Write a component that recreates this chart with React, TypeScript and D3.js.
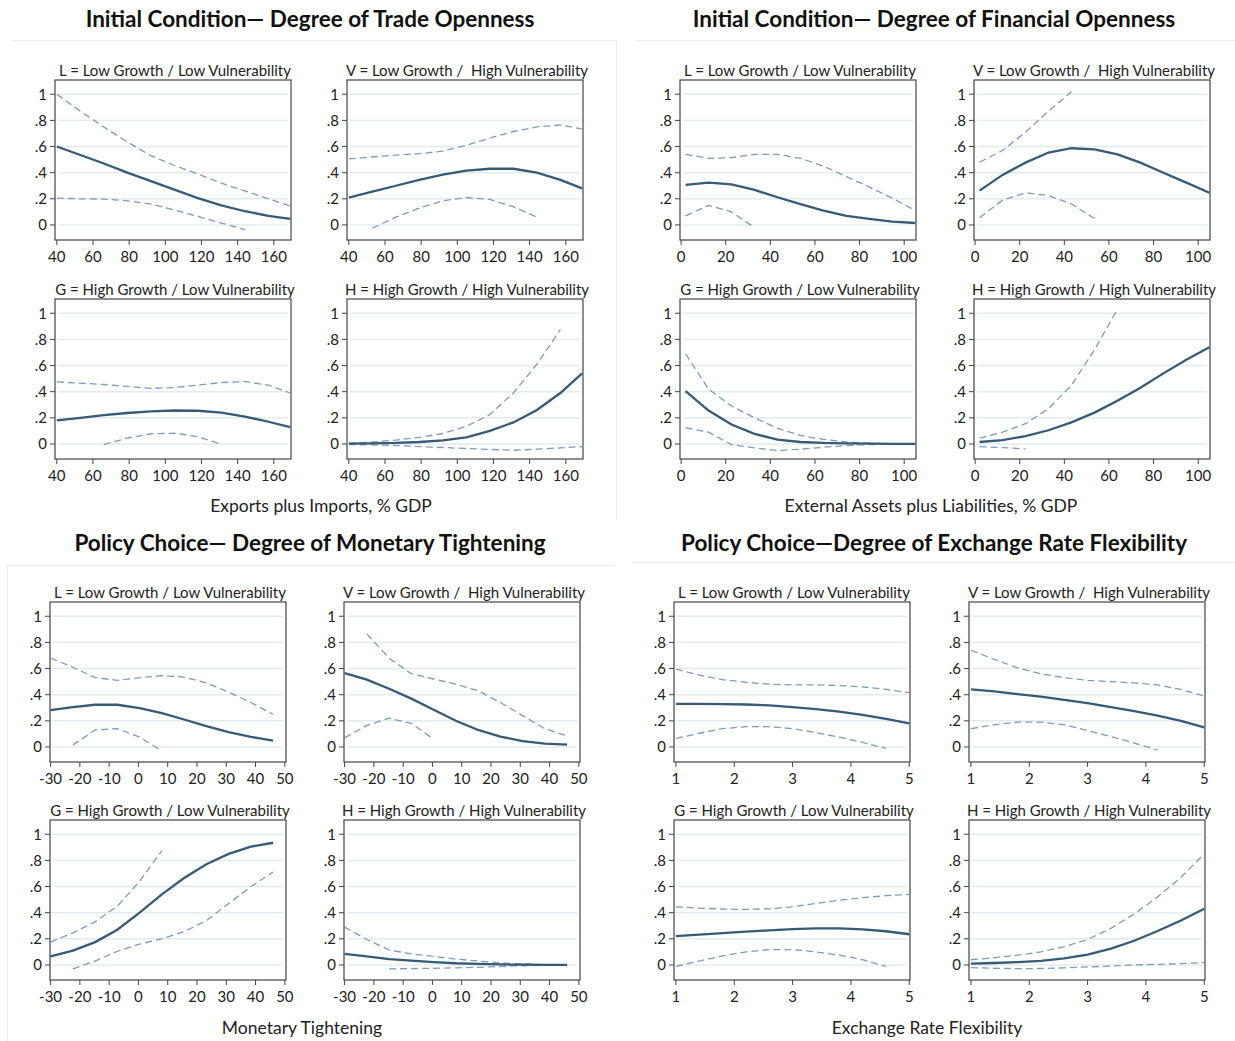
import React from 'react';
import * as d3 from 'd3';

// x grids of the fitted curves
const tradeX = [40, 53, 66, 79, 92, 105, 118, 131, 144, 157, 169];
const finX = [2, 12.3, 22.6, 32.9, 43.2, 53.5, 63.8, 74.1, 84.4, 94.7, 105];
const monX = [-30, -22.4, -14.8, -7.2, 0.4, 8, 15.6, 23.2, 30.8, 38.4, 46];
const flexX = [1, 1.4, 1.8, 2.2, 2.6, 3, 3.4, 3.8, 4.2, 4.6, 5];

// trade openness
const tradeL_fit = [0.6, 0.535, 0.47, 0.4, 0.335, 0.27, 0.205, 0.15, 0.105, 0.07, 0.047];
const tradeL_hi = [1.0, 0.87, 0.75, 0.635, 0.53, 0.455, 0.39, 0.32, 0.26, 0.2, 0.145];
const tradeL_lo = [0.205, 0.2, 0.198, 0.185, 0.16, 0.115, 0.065, 0.015, -0.035, null, null];
const tradeV_fit = [0.21, 0.255, 0.3, 0.345, 0.385, 0.415, 0.43, 0.43, 0.4, 0.345, 0.28];
const tradeV_hi = [0.505, 0.52, 0.535, 0.545, 0.565, 0.61, 0.665, 0.715, 0.75, 0.765, 0.735];
const tradeV_lo = [null, -0.025, 0.06, 0.13, 0.185, 0.21, 0.195, 0.14, 0.06, null, null];
const tradeG_fit = [0.18, 0.2, 0.22, 0.237, 0.25, 0.256, 0.254, 0.24, 0.21, 0.17, 0.128];
const tradeG_hi = [0.475, 0.465, 0.455, 0.44, 0.425, 0.432, 0.45, 0.47, 0.477, 0.45, 0.39];
const tradeG_lo = [null, null, -0.005, 0.045, 0.078, 0.083, 0.055, -0.002, null, null, null];
const tradeH_fit = [0.003, 0.005, 0.008, 0.015, 0.028, 0.05, 0.1, 0.165, 0.26, 0.39, 0.54];
const tradeH_hi = [0.005, 0.015, 0.03, 0.05, 0.08, 0.135, 0.225, 0.39, 0.61, 0.875, null];
const tradeH_lo = [-0.005, -0.007, -0.012, -0.02, -0.027, -0.035, -0.042, -0.048, -0.04, -0.03, -0.02];

// financial openness
const finL_fit = [0.306, 0.324, 0.31, 0.268, 0.212, 0.16, 0.11, 0.069, 0.046, 0.026, 0.015];
const finL_hi = [0.54, 0.51, 0.515, 0.54, 0.54, 0.51, 0.45, 0.37, 0.29, 0.205, 0.11];
const finL_lo = [0.07, 0.15, 0.1, -0.02, null, null, null, null, null, null, null];
const finV_fit = [0.263, 0.383, 0.477, 0.554, 0.587, 0.579, 0.54, 0.477, 0.4, 0.324, 0.247];
const finV_hi = [0.48, 0.57, 0.71, 0.87, 1.02, null, null, null, null, null, null];
const finV_lo = [0.055, 0.19, 0.245, 0.225, 0.16, 0.05, null, null, null, null, null];
const finG_fit = [0.405, 0.256, 0.149, 0.077, 0.033, 0.015, 0.008, 0.005, 0.003, 0.001, 0.0];
const finG_hi = [0.69, 0.42, 0.29, 0.2, 0.12, 0.065, 0.035, 0.015, 0.006, 0.002, 0.0];
const finG_lo = [0.125, 0.09, -0.005, -0.03, -0.05, -0.04, -0.025, -0.012, -0.005, -0.002, 0.0];
const finH_fit = [0.015, 0.03, 0.06, 0.105, 0.165, 0.24, 0.33, 0.43, 0.54, 0.645, 0.74];
const finH_hi = [0.045, 0.09, 0.155, 0.27, 0.45, 0.72, 1.03, null, null, null, null];
const finH_lo = [-0.02, -0.028, -0.038, null, null, null, null, null, null, null, null];

// monetary tightening
const monL_fit = [0.282, 0.305, 0.323, 0.323, 0.297, 0.259, 0.21, 0.159, 0.113, 0.077, 0.049];
const monL_hi = [0.68, 0.61, 0.53, 0.51, 0.53, 0.545, 0.535, 0.49, 0.42, 0.34, 0.25];
const monL_lo = [null, 0.015, 0.13, 0.14, 0.075, -0.03, null, null, null, null, null];
const monV_fit = [0.565, 0.515, 0.445, 0.37, 0.285, 0.2, 0.13, 0.08, 0.045, 0.025, 0.018];
const monV_hi = [null, 0.865, 0.68, 0.56, 0.52, 0.48, 0.43, 0.34, 0.24, 0.14, 0.085];
const monV_lo = [0.07, 0.165, 0.22, 0.18, 0.06, null, null, null, null, null, null];
const monG_fit = [0.065, 0.11, 0.175, 0.27, 0.4, 0.54, 0.665, 0.77, 0.85, 0.905, 0.935];
const monG_hi = [0.175, 0.245, 0.33, 0.45, 0.64, 0.875, null, null, null, null, null];
const monG_lo = [null, -0.03, 0.03, 0.105, 0.16, 0.2, 0.255, 0.34, 0.47, 0.6, 0.71];
const monH_fit = [0.085, 0.065, 0.045, 0.033, 0.022, 0.013, 0.008, 0.004, 0.002, 0.001, 0.0];
const monH_hi = [0.29, 0.195, 0.115, 0.085, 0.065, 0.045, 0.03, 0.016, 0.008, 0.003, 0.001];
const monH_lo = [null, null, -0.03, -0.028, -0.025, -0.022, -0.018, -0.012, -0.006, -0.003, -0.001];

// exchange rate flexibility
const flexL_fit = [0.33, 0.33, 0.328, 0.325, 0.318, 0.305, 0.29, 0.27, 0.245, 0.215, 0.18];
const flexL_hi = [0.595, 0.55, 0.515, 0.495, 0.48, 0.475, 0.475, 0.47, 0.46, 0.44, 0.415];
const flexL_lo = [0.065, 0.105, 0.14, 0.155, 0.155, 0.14, 0.11, 0.075, 0.035, -0.01, null];
const flexV_fit = [0.44, 0.425, 0.405, 0.385, 0.36, 0.335, 0.305, 0.275, 0.24, 0.2, 0.15];
const flexV_hi = [0.74, 0.67, 0.605, 0.56, 0.53, 0.51, 0.5, 0.49, 0.475, 0.44, 0.39];
const flexV_lo = [0.14, 0.17, 0.19, 0.19, 0.17, 0.125, 0.08, 0.03, -0.025, null, null];
const flexG_fit = [0.22, 0.232, 0.244, 0.255, 0.265, 0.274, 0.28, 0.28, 0.272, 0.258, 0.235];
const flexG_hi = [0.445, 0.435, 0.428, 0.425, 0.43, 0.445, 0.47, 0.495, 0.515, 0.53, 0.54];
const flexG_lo = [-0.01, 0.03, 0.07, 0.1, 0.118, 0.118, 0.1, 0.075, 0.04, -0.01, null];
const flexH_fit = [0.01, 0.015, 0.022, 0.032, 0.05, 0.08, 0.125, 0.185, 0.26, 0.34, 0.43];
const flexH_hi = [0.04, 0.055, 0.075, 0.1, 0.14, 0.195, 0.28, 0.39, 0.52, 0.67, 0.85];
const flexH_lo = [-0.02, -0.025, -0.028, -0.027, -0.022, -0.015, -0.008, 0.0, 0.005, 0.01, 0.018];

// ticks and labels
const yTicks = [0, 0.2, 0.4, 0.6, 0.8, 1];
const yTickLabels = ['0', '.2', '.4', '.6', '.8', '1'];
const tradeTicks = [40, 60, 80, 100, 120, 140, 160];
const finTicks = [0, 20, 40, 60, 80, 100];
const monTicks = [-30, -20, -10, 0, 10, 20, 30, 40, 50];
const flexTicks = [1, 2, 3, 4, 5];

const subTitles = [
  'L = Low Growth / Low Vulnerability',
  'V = Low Growth /  High Vulnerability',
  'G = High Growth / Low Vulnerability',
  'H = High Growth / High Vulnerability',
];

const W = 236;
const H = 160;
const FIT = '#375a77';
const BAND = '#7f9bb9';
const GRID = '#e3ecec';
const PANEL_LINE = '#e8eeee';
const FONT = 'Lato, "Open Sans", sans-serif';

type Vals = (number | null)[];

const SubPlot = ({ left, top, title, xDomain, xTicks, xs, fit, hi, lo }: {
  left: number; top: number; title: string; xDomain: [number, number];
  xTicks: number[]; xs: number[]; fit: Vals; hi: Vals; lo: Vals;
}) => {
  const x = d3.scaleLinear().domain(xDomain).range([left, left + W]);
  const y = d3.scaleLinear().domain([-0.115, 1.109]).range([top + H, top]);
  const line = d3.line<[number, number | null]>()
    .defined((d) => d[1] != null)
    .x((d) => x(d[0]))
    .y((d) => y(d[1] as number));
  const pts = (vals: Vals) => xs.map((v, i) => [v, vals[i]] as [number, number | null]);

  return (
    <g>
      <text x={left + W / 2 + 2} y={top - 4} textAnchor="middle" fontFamily={FONT}
        fontSize={15} fill="#222">{title.replace(/  /g, '\u00a0 ')}</text>
      {yTicks.map((t) => (
        <line key={'g' + t} x1={left + 3} x2={left + W - 3} y1={y(t)} y2={y(t)}
          stroke={GRID} strokeWidth={1.4} />
      ))}
      <path d={line(pts(hi)) || ''} fill="none" stroke={BAND} strokeWidth={1.3} strokeDasharray="7,4" />
      <path d={line(pts(lo)) || ''} fill="none" stroke={BAND} strokeWidth={1.3} strokeDasharray="7,4" />
      <path d={line(pts(fit)) || ''} fill="none" stroke={FIT} strokeWidth={2.3} />
      <rect x={left} y={top} width={W} height={H} fill="none" stroke="#444" strokeWidth={1.2} />
      {yTicks.map((t, i) => (
        <g key={'y' + t}>
          <line x1={left - 5} x2={left} y1={y(t)} y2={y(t)} stroke="#444" />
          <text x={left - 8} y={y(t)} dy="0.36em" textAnchor="end" fontFamily={FONT}
            fontSize={15} fill="#222">{yTickLabels[i]}</text>
        </g>
      ))}
      {xTicks.map((t) => (
        <g key={'x' + t}>
          <line x1={x(t)} x2={x(t)} y1={top + H} y2={top + H + 5} stroke="#444" />
          <text x={x(t)} y={top + H + 22} textAnchor="middle" fontFamily={FONT}
            fontSize={15} fill="#222">{t}</text>
        </g>
      ))}
    </g>
  );
};

const Panel = ({ cols, rows, xDomain, xTicks, xs, series, title, titleX, titleY, axisTitle, axisX, axisY }: {
  cols: number[]; rows: number[]; xDomain: [number, number]; xTicks: number[]; xs: number[];
  series: Vals[][]; title: string; titleX: number; titleY: number;
  axisTitle: string; axisX: number; axisY: number;
}) => (
  <g>
    <text x={titleX} y={titleY} dy="0.35em" textAnchor="middle" fontFamily={FONT}
      fontWeight="bold" fontSize={22.5} fill="#111">{title}</text>
    {series.map((s, i) => (
      <SubPlot key={i} left={cols[i % 2]} top={rows[Math.floor(i / 2)]} title={subTitles[i]}
        xDomain={xDomain} xTicks={xTicks} xs={xs} fit={s[0]} hi={s[1]} lo={s[2]} />
    ))}
    <text x={axisX} y={axisY} dy="0.35em" textAnchor="middle" fontFamily={FONT}
      fontSize={17.5} fill="#222">{axisTitle}</text>
  </g>
);

const App = () => (
  <svg width={1235} height={1041} style={{ position: 'absolute', left: 0, top: 0, background: '#fff' }}>
    {/* faint frames of the four figure images */}
    <line x1={12} x2={616} y1={40.5} y2={40.5} stroke={PANEL_LINE} />
    <line x1={616.5} x2={616.5} y1={40} y2={520} stroke={PANEL_LINE} />
    <line x1={636} x2={1235} y1={40.5} y2={40.5} stroke={PANEL_LINE} />
    <line x1={7} x2={614} y1={565.5} y2={565.5} stroke={PANEL_LINE} />
    <line x1={7.5} x2={7.5} y1={565} y2={1041} stroke={PANEL_LINE} />
    <line x1={632} x2={1235} y1={562.5} y2={562.5} stroke={PANEL_LINE} />

    <Panel cols={[55, 347]} rows={[80, 299]} xDomain={[39, 169.5]} xTicks={tradeTicks} xs={tradeX}
      series={[
        [tradeL_fit, tradeL_hi, tradeL_lo], [tradeV_fit, tradeV_hi, tradeV_lo],
        [tradeG_fit, tradeG_hi, tradeG_lo], [tradeH_fit, tradeH_hi, tradeH_lo],
      ]}
      title="Initial Condition— Degree of Trade Openness" titleX={310} titleY={19}
      axisTitle="Exports plus Imports, % GDP" axisX={321} axisY={506} />

    <Panel cols={[680, 974]} rows={[80, 299]} xDomain={[-0.5, 105.3]} xTicks={finTicks} xs={finX}
      series={[
        [finL_fit, finL_hi, finL_lo], [finV_fit, finV_hi, finV_lo],
        [finG_fit, finG_hi, finG_lo], [finH_fit, finH_hi, finH_lo],
      ]}
      title="Initial Condition— Degree of Financial Openness" titleX={934} titleY={19}
      axisTitle="External Assets plus Liabilities, % GDP" axisX={931} axisY={506} />

    <Panel cols={[50, 344]} rows={[602, 820]} xDomain={[-30.2, 50.4]} xTicks={monTicks} xs={monX}
      series={[
        [monL_fit, monL_hi, monL_lo], [monV_fit, monV_hi, monV_lo],
        [monG_fit, monG_hi, monG_lo], [monH_fit, monH_hi, monH_lo],
      ]}
      title="Policy Choice— Degree of Monetary Tightening" titleX={310} titleY={543}
      axisTitle="Monetary Tightening" axisX={302} axisY={1028} />

    <Panel cols={[674, 969]} rows={[602, 820]} xDomain={[0.967, 5.013]} xTicks={flexTicks} xs={flexX}
      series={[
        [flexL_fit, flexL_hi, flexL_lo], [flexV_fit, flexV_hi, flexV_lo],
        [flexG_fit, flexG_hi, flexG_lo], [flexH_fit, flexH_hi, flexH_lo],
      ]}
      title="Policy Choice—Degree of Exchange Rate Flexibility" titleX={934} titleY={543}
      axisTitle="Exchange Rate Flexibility" axisX={927} axisY={1028} />
  </svg>
);

export default App;
